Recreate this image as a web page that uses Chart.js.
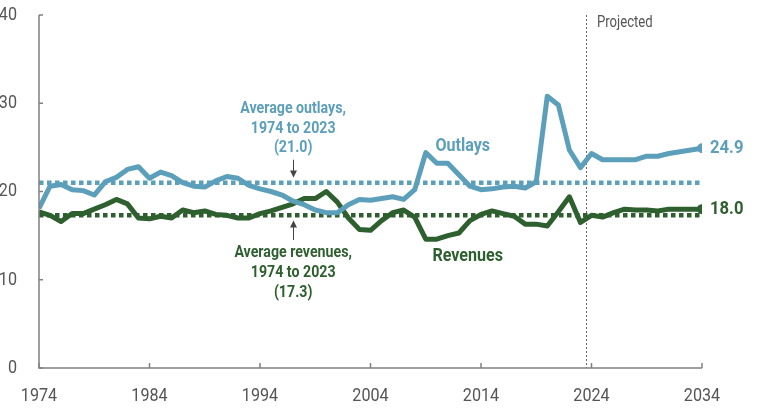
<!DOCTYPE html>
<html>
<head>
<meta charset="utf-8">
<script src="https://cdn.jsdelivr.net/npm/chart.js@4.4.1/dist/chart.umd.min.js"></script>
<style>
  html, body { margin: 0; padding: 0; background: #fff; }
  #wrap { width: 758px; height: 413px; }
</style>
</head>
<body>
<div id="wrap"><canvas id="budgetChart" width="758" height="413"></canvas></div>
<script>
// 연도 / 시리즈 값 (% of GDP)
const years = [1974,1975,1976,1977,1978,1979,1980,1981,1982,1983,1984,1985,1986,1987,1988,1989,
  1990,1991,1992,1993,1994,1995,1996,1997,1998,1999,2000,2001,2002,2003,2004,2005,2006,2007,2008,2009,
  2010,2011,2012,2013,2014,2015,2016,2017,2018,2019,2020,2021,2022,2023,
  2024,2025,2026,2027,2028,2029,2030,2031,2032,2033,2034];

const outlays = [18.1,20.6,20.8,20.2,20.1,19.6,21.1,21.6,22.5,22.8,21.5,22.2,21.8,21.0,20.6,20.5,
  21.2,21.7,21.5,20.7,20.3,20.0,19.6,18.9,18.5,17.9,17.6,17.6,18.5,19.1,19.0,19.2,19.4,19.1,20.2,24.4,
  23.2,23.2,21.9,20.6,20.2,20.3,20.5,20.6,20.4,21.1,30.8,29.8,24.7,22.7,
  24.3,23.6,23.6,23.6,23.6,24.0,24.0,24.3,24.5,24.7,24.9];

const revenues = [17.7,17.3,16.6,17.5,17.5,18.0,18.5,19.1,18.6,17.0,16.9,17.2,17.0,17.9,17.6,17.8,
  17.4,17.3,17.0,17.0,17.5,17.8,18.2,18.6,19.2,19.2,20.0,18.8,17.0,15.7,15.6,16.7,17.6,17.9,17.1,14.6,
  14.6,15.0,15.3,16.7,17.4,17.8,17.5,17.2,16.3,16.3,16.1,17.7,19.4,16.5,
  17.3,17.1,17.6,18.0,17.9,17.9,17.8,18.0,18.0,18.0,18.0];

const avgOutlays = 21.0;
const avgRevenues = 17.3;
const avgRange = [1974, 2033.8];
const projectedAt = 2023.5;
const yTicks = [0, 10, 20, 30, 40];
const xTicks = [1974, 1984, 1994, 2004, 2014, 2024, 2034];

const BLUE = '#5c9fbb';
const GREEN = '#2e5f2f';
const FONT = "Roboto, 'Liberation Sans', sans-serif";

function toPoints(vals) {
    return years.map((yr, i) => ({ x: yr, y: vals[i] }));
}

function lastPointOnly(n, r) {
    return Array.from({ length: n }, (_, i) => (i === n - 1 ? r : 0));
}

// 좁은 글꼴 흉내: 가로로 눌러서 그림
function narrowText(ctx, text, x, y, font, color, sx, align) {
    ctx.save();
    ctx.font = font;
    ctx.fillStyle = color;
    ctx.textAlign = align || 'center';
    ctx.textBaseline = 'middle';
    ctx.translate(x, y);
    ctx.scale(sx, 1);
    ctx.fillText(text, 0, 0);
    ctx.restore();
}

// 축, 눈금, 주석 그리기
const decorPlugin = {
    id: 'decor',
    beforeDatasetsDraw(chart) {
        const { ctx, chartArea, scales: { x } } = chart;
        ctx.save();
        // projected 구분선
        const px = Math.round(x.getPixelForValue(projectedAt));
        ctx.strokeStyle = '#666';
        ctx.lineWidth = 1;
        ctx.setLineDash([2, 2]);
        ctx.beginPath();
        ctx.moveTo(px + 0.5, chartArea.top);
        ctx.lineTo(px + 0.5, chartArea.bottom);
        ctx.stroke();
        ctx.restore();
    },
    afterDraw(chart) {
        const { ctx, chartArea, scales: { x, y } } = chart;
        ctx.save();
        // 축선
        ctx.strokeStyle = '#808080';
        ctx.lineWidth = 1.5;
        ctx.beginPath();
        ctx.moveTo(chartArea.left, chartArea.top);
        ctx.lineTo(chartArea.left, chartArea.bottom);
        ctx.lineTo(chartArea.right, chartArea.bottom);
        ctx.stroke();
        // 안쪽 눈금 + 눈금 라벨
        const tickFont = '19px ' + FONT;
        yTicks.forEach(v => {
            const py = y.getPixelForValue(v);
            ctx.beginPath();
            ctx.moveTo(chartArea.left, py);
            ctx.lineTo(chartArea.left + 4, py);
            ctx.stroke();
            narrowText(ctx, String(v), chartArea.left - 22, py, tickFont, '#555', 0.85, 'right');
        });
        xTicks.forEach(v => {
            const px = x.getPixelForValue(v);
            ctx.beginPath();
            ctx.moveTo(px, chartArea.bottom);
            ctx.lineTo(px, chartArea.bottom - 5);
            ctx.stroke();
            narrowText(ctx, String(v), px, chartArea.bottom + 28, tickFont, '#555', 0.85, 'center');
        });
        ctx.restore();

        // Projected
        narrowText(ctx, 'Projected', x.getPixelForValue(2024.5), y.getPixelForValue(39.1),
            '16px ' + FONT, '#555', 0.82, 'left');

        // 평균 주석
        const noteFont = 'bold 16.5px ' + FONT;
        const ax = x.getPixelForValue(1997);
        let ty = y.getPixelForValue(29.35);
        ['Average outlays,', '1974 to 2023', '(21.0)'].forEach((t, i) =>
            narrowText(ctx, t, ax, ty + i * 19.5, noteFont, BLUE, 0.86));
        ty = y.getPixelForValue(13.0);
        ['Average revenues,', '1974 to 2023', '(17.3)'].forEach((t, i) =>
            narrowText(ctx, t, ax, ty + i * 20, noteFont, GREEN, 0.86));

        // 화살표
        function arrow(x0, y0, y1) {
            ctx.save();
            ctx.strokeStyle = '#444';
            ctx.fillStyle = '#444';
            ctx.lineWidth = 1;
            ctx.beginPath();
            ctx.moveTo(x0 + 0.5, y0);
            ctx.lineTo(x0 + 0.5, y1);
            ctx.stroke();
            const d = y1 > y0 ? 1 : -1;
            ctx.beginPath();
            ctx.moveTo(x0 + 0.5, y1 + d);
            ctx.lineTo(x0 - 3, y1 - d * 6);
            ctx.lineTo(x0 + 4, y1 - d * 6);
            ctx.closePath();
            ctx.fill();
            ctx.restore();
        }
        arrow(Math.round(ax), y.getPixelForValue(23.6), y.getPixelForValue(21.7));
        arrow(Math.round(ax), y.getPixelForValue(14.5), y.getPixelForValue(16.6));

        // 시리즈 라벨
        const seriesFont = 'bold 18.5px ' + FONT;
        narrowText(ctx, 'Outlays', x.getPixelForValue(2012.35), y.getPixelForValue(25.15), seriesFont, BLUE, 0.87);
        narrowText(ctx, 'Revenues', x.getPixelForValue(2012.8), y.getPixelForValue(12.7), seriesFont, GREEN, 0.87);

        // 끝 값 라벨
        const endFont = 'bold 18.5px ' + FONT;
        const lastYr = years[years.length - 1];
        const ex = x.getPixelForValue(lastYr) + 8;
        const lo = outlays[outlays.length - 1];
        const lr = revenues[revenues.length - 1];
        narrowText(ctx, lo.toFixed(1), ex, y.getPixelForValue(lo), endFont, BLUE, 0.9, 'left');
        narrowText(ctx, lr.toFixed(1), ex, y.getPixelForValue(lr), endFont, GREEN, 0.9, 'left');
    }
};

new Chart(document.getElementById('budgetChart').getContext('2d'), {
    type: 'line',
    data: {
        datasets: [
            {
                label: 'Outlays',
                data: toPoints(outlays),
                borderColor: BLUE,
                backgroundColor: BLUE,
                borderWidth: 5,
                pointRadius: lastPointOnly(years.length, 5),
                pointBorderWidth: 0,
                tension: 0,
                borderJoinStyle: 'round'
            },
            {
                label: 'Revenues',
                data: toPoints(revenues),
                borderColor: GREEN,
                backgroundColor: GREEN,
                borderWidth: 5,
                pointRadius: lastPointOnly(years.length, 5),
                pointBorderWidth: 0,
                tension: 0,
                borderJoinStyle: 'round'
            },
            {
                label: 'Average outlays',
                data: avgRange.map(yr => ({ x: yr, y: avgOutlays })),
                borderColor: BLUE,
                borderWidth: 4.5,
                borderDash: [4.5, 3.5],
                pointRadius: 0
            },
            {
                label: 'Average revenues',
                data: avgRange.map(yr => ({ x: yr, y: avgRevenues })),
                borderColor: GREEN,
                borderWidth: 4.5,
                borderDash: [4.5, 3.5],
                pointRadius: 0
            }
        ]
    },
    options: {
        responsive: false,
        animation: false,
        layout: { padding: { top: 15, right: 56, left: 0, bottom: 0 } },
        scales: {
            x: {
                type: 'linear',
                min: 1974,
                max: 2034,
                afterFit: axis => { axis.height = 45; },
                grid: { display: false, drawTicks: false },
                border: { display: false },
                ticks: { display: false }
            },
            y: {
                min: 0,
                max: 40,
                afterFit: axis => { axis.width = 39; },
                grid: { display: false, drawTicks: false },
                border: { display: false },
                ticks: { display: false }
            }
        },
        plugins: {
            legend: { display: false },
            tooltip: { enabled: false }
        }
    },
    plugins: [decorPlugin]
});
</script>
</body>
</html>
